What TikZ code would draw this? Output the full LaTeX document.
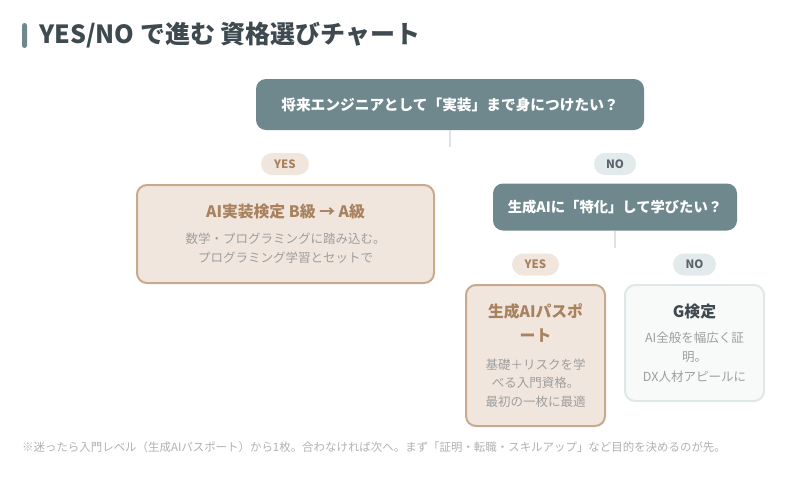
\documentclass[tikz,border=0pt]{standalone}
\usepackage{fontspec}
\setmainfont{Noto Sans CJK JP}
\usetikzlibrary{positioning, calc}
\definecolor{slate}{HTML}{6F888E}
\definecolor{ink}{HTML}{3E4A4F}
\definecolor{sand}{HTML}{F1E6DD}
\definecolor{sandline}{HTML}{C9A98D}
\definecolor{sandtext}{HTML}{A8825F}
\definecolor{mist}{HTML}{E3EAEC}
\definecolor{mistline}{HTML}{DFE7E9}
\definecolor{paper}{HTML}{F8FAFA}
\definecolor{muted}{HTML}{9E9E9E}
\definecolor{stub}{HTML}{DCE3E6}
\newcommand{\Head}[1]{\color{#1}\bfseries\fontsize{15.8}{19}\selectfont}
\newcommand{\Body}{\color{muted}\fontsize{12.5}{19}\selectfont}
\tikzset{
    question/.style={fill=slate, rounded corners=10pt, text=white, font=\bfseries\fontsize{14.7}{18}\selectfont},
    pill/.style={rounded corners=11pt, minimum height=22pt, inner sep=0pt, font=\bfseries\fontsize{11.5}{14}\selectfont},
    yespill/.style={pill, fill=sand, text=sandtext, minimum width=48pt},
    nopill/.style={pill, fill=mist, text=ink!85, minimum width=42pt},
    answer/.style={line width=2pt, rounded corners=10pt, align=center, font=\fontsize{12.5}{19}\selectfont},
    link/.style={draw=stub, line width=2pt},
}
\begin{document}
\begin{tikzpicture}[x=1pt, y=-1pt]
    \useasboundingbox (0,0) rectangle (787,477);

    \fill[slate, rounded corners=2.5pt] (22,23) rectangle (27,48);
    \node[anchor=base west, inner sep=0pt, text=ink, font=\bfseries\fontsize{25}{28}\selectfont] (title) at (39,43) {YES/NO で進む 資格選びチャート};

    \node[question, minimum width=388pt, minimum height=51pt] (q1) at (450,104.5) {将来エンジニアとして「実装」まで身につけたい？};
    \coordinate[below=17pt of q1.south] (s1);
    \draw[link] (q1.south) -- (s1);

    \node[yespill] (y1) at (285,164) {YES};
    \node[nopill] (n1) at (615,164) {NO};

    \node[answer, draw=sandline, fill=sand, minimum width=297pt, minimum height=98pt] (ai) at (285.5,234) {\Head{sandtext}AI実装検定 B級 → A級\\[7pt]\Body 数学・プログラミングに踏み込む。\\\Body プログラミング学習とセットで};

    \node[question, minimum width=244pt, minimum height=47pt, font=\bfseries\fontsize{14.3}{18}\selectfont] (q2) at (615,207) {生成AIに「特化」して学びたい？};
    \coordinate[below=17pt of q2.south] (s2);
    \draw[link] (q2.south) -- (s2);

    \node[yespill, minimum width=47pt] (y2) at (535.5,264.5) {YES};
    \node[nopill, minimum width=43pt] (n2) at (694.5,264.5) {NO};

    \node[answer, draw=sandline, fill=sand, minimum width=139pt, minimum height=141pt] (pass) at (535.5,355.5) {\Head{sandtext}生成AIパスポ\\[5pt]\Head{sandtext}ート\\[9pt]\Body 基礎＋リスクを学\\[-0.5pt]\Body べる入門資格。\\[-0.5pt]\Body 最初の一枚に最適};
    \node[answer, draw=mistline, fill=paper, minimum width=139pt, minimum height=116pt] (gk) at (694.5,343) {\Head{ink}G検定\\[6pt]\Body AI全般を幅広く証\\[0.5pt]\Body 明。\\[0.5pt]\Body DX人材アピールに};

    \node[anchor=base west, inner sep=0pt, text=muted!80, font=\fontsize{11.45}{13}\selectfont] (memo) at (22,451) {※迷ったら入門レベル（生成AIパスポート）から1枚。合わなければ次へ。まず「証明・転職・スキルアップ」など目的を決めるのが先。};
\end{tikzpicture}
\end{document}
